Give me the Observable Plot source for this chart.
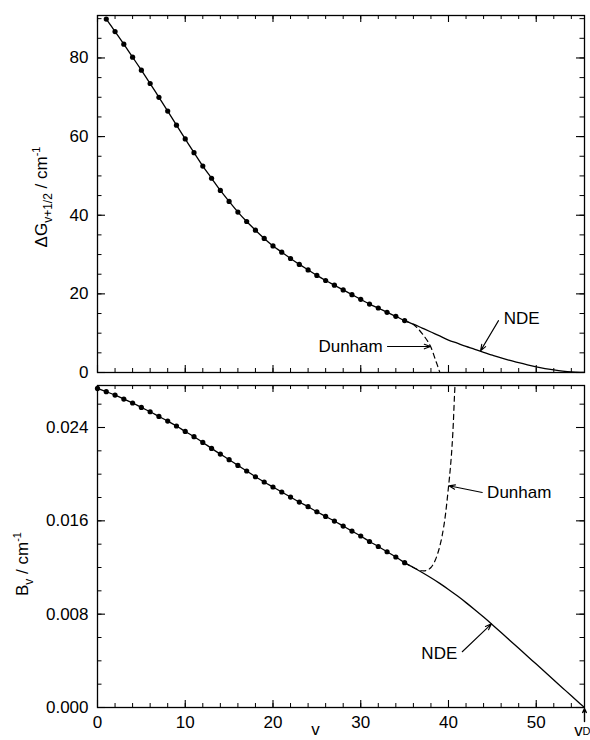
<!DOCTYPE html>
<html><head><meta charset="utf-8">
<script src="https://cdn.jsdelivr.net/npm/d3@7"></script>
<script src="https://cdn.jsdelivr.net/npm/@observablehq/plot@0.6"></script>
<style>
body{margin:0;background:#fff}
#chart svg{display:block;overflow:visible}
</style>
</head><body><div id="chart"></div>
<script>
// ---------- data ----------
const vTop = d3.range(1, 36);            // v = 1..35
const dG = [89.9, 86.7, 83.5, 80.2, 76.9, 73.5, 70.0, 66.5, 62.9, 59.4,
            55.9, 52.5, 49.4, 46.3, 43.5, 40.8, 38.4, 36.2, 34.1, 32.2,
            30.6, 29.0, 27.5, 26.1, 24.7, 23.4, 22.2, 21.0, 19.8, 18.6,
            17.4, 16.4, 15.3, 14.3, 13.2];
const vNdeTop = [35, 36, 37, 38, 39, 40, 41, 42, 43, 44, 45, 46, 47, 48, 49, 50, 51, 52, 53, 54, 55, 55.5];
const ndeTop  = [13.2, 12.3, 11.3, 10.3, 9.3, 8.25, 7.45, 6.65, 5.9, 5.1, 4.4, 3.7, 3.1, 2.5, 1.95, 1.45, 1.0, 0.65, 0.35, 0.13, 0.02, 0];
const vDunTop = [35, 36, 36.5, 37, 37.5, 38, 38.5, 39, 39.4];
const dunTop  = [13.2, 12.2, 11.2, 9.9, 8.4, 6.4, 3.3, 0.1, -3];

const vBot = d3.range(0, 36);            // v = 0..35
const Bv = [0.02735, 0.02707, 0.02678, 0.02644, 0.02610, 0.02572, 0.02535, 0.02495, 0.02455, 0.02413,
            0.02366, 0.02321, 0.02272, 0.02221, 0.02172, 0.02124, 0.02075, 0.02027, 0.01978, 0.01933,
            0.01890, 0.01847, 0.01804, 0.01761, 0.01721, 0.01678, 0.01638, 0.01598, 0.01555, 0.01512,
            0.01470, 0.01423, 0.01380, 0.01335, 0.01290, 0.01241];
const vNdeBot = [35, 36, 37, 38, 39, 40, 41, 42, 43, 44, 45, 46, 47, 48, 49, 50, 51, 52, 53, 54, 55, 55.5];
const ndeBot  = [0.01241, 0.01200, 0.01157, 0.01112, 0.01064, 0.01012, 0.00957, 0.00899, 0.00838, 0.00775,
                 0.00710, 0.00643, 0.00575, 0.00507, 0.00439, 0.00372, 0.00304, 0.00236, 0.00168, 0.00100, 0.00033, 0];
const vDunBot = [35, 36, 36.5, 37, 37.5, 38, 38.5, 39, 39.5, 40, 40.3, 40.5, 40.7, 40.9];
const dunBot  = [0.01241, 0.01200, 0.01182, 0.01172, 0.01175, 0.01200, 0.01265, 0.01380, 0.01570, 0.01890, 0.02130, 0.02360, 0.02700, 0.03000];

const xTicks = [0, 10, 20, 30, 40, 50];
const xMinorTicks = d3.range(0, 56, 2);
const gTicks = [0, 20, 40, 60, 80];
const gMinorTicks = d3.range(0, 91, 5);
const bTicks = [0, 0.008, 0.016, 0.024];
const bMinorTicks = d3.range(0, 0.0275, 0.002);
const vD = 55.5;

// annotations (data coordinates)
const topDunLabel = [{x: 32.5, y: 6.6, t: "Dunham"}];
const topNdeLabel = [{x: 46.3, y: 13.7, t: "NDE"}];
const topArrows = [{x1: 33.05, y1: 6.6, x2: 37.95, y2: 6.6}, {x1: 45.7, y1: 13.2, x2: 43.65, y2: 5.5}];
const botDunLabel = [{x: 44.4, y: 0.01843, t: "Dunham"}];
const botNdeLabel = [{x: 41.0, y: 0.0046, t: "NDE"}];
const botArrows = [{x1: 43.85, y1: 0.01843, x2: 40.05, y2: 0.0190}, {x1: 41.57, y1: 0.00478, x2: 44.9, y2: 0.00717}];

// ---------- helpers ----------
const font = "'Liberation Sans', Arial, Helvetica, sans-serif";
const W = 590, ML = 97, MR = 6;
const FW = W - ML - MR;
const zip = (xs, ys) => xs.map((x, i) => ({x, y: ys[i]}));

function frameTicks(yMaj, yMin, FH) {
  const mx = 7, nx = 4, my = 8, ny = 4.5;
  return [
    Plot.tickX(xTicks, {x: d => d, insetBottom: FH - mx, strokeWidth: 1.1}),
    Plot.tickX(xTicks, {x: d => d, insetTop: FH - mx, strokeWidth: 1.1}),
    Plot.tickX(xMinorTicks, {x: d => d, insetBottom: FH - nx, strokeWidth: 1}),
    Plot.tickX(xMinorTicks, {x: d => d, insetTop: FH - nx, strokeWidth: 1}),
    Plot.tickY(yMaj, {y: d => d, insetRight: FW - my, strokeWidth: 1.1}),
    Plot.tickY(yMaj, {y: d => d, insetLeft: FW - my, strokeWidth: 1.1}),
    Plot.tickY(yMin, {y: d => d, insetRight: FW - ny, strokeWidth: 1}),
    Plot.tickY(yMin, {y: d => d, insetLeft: FW - ny, strokeWidth: 1}),
    Plot.frame({stroke: "black", strokeWidth: 1.3})
  ];
}

// ---------- top panel ----------
const topH = 378, topMT = 15, topMB = 6;
const topPlot = Plot.plot({
  width: W, height: topH,
  marginLeft: ML, marginRight: MR, marginTop: topMT, marginBottom: topMB,
  style: {fontFamily: font, fontSize: "17px", color: "black", background: "white"},
  x: {domain: [0, vD], axis: null},
  y: {domain: [0, 90.8], axis: null},
  marks: [
    ...frameTicks(gTicks, gMinorTicks, topH - topMT - topMB),
    Plot.axisY(gTicks, {tickSize: 0, tickPadding: 9, label: null, fontSize: 17}),
    Plot.line(zip(vDunTop, dunTop), {x: "x", y: "y", curve: "catmull-rom", stroke: "black", strokeWidth: 1.2, strokeDasharray: "5,4", clip: true}),
    Plot.line([...zip(vTop, dG), ...zip(vNdeTop, ndeTop).slice(1)], {x: "x", y: "y", curve: "catmull-rom", stroke: "black", strokeWidth: 1.3, clip: true}),
    Plot.dot(zip(vTop, dG), {x: "x", y: "y", r: 2.6, fill: "black", stroke: "none"}),
    Plot.text(topDunLabel, {x: "x", y: "y", text: "t", textAnchor: "end", fontSize: 17}),
    Plot.text(topNdeLabel, {x: "x", y: "y", text: "t", textAnchor: "start", fontSize: 17}),
    Plot.arrow(topArrows, {x1: "x1", y1: "y1", x2: "x2", y2: "y2", headLength: 9, headAngle: 40, strokeWidth: 1.1, stroke: "black"})
  ]
});

// ---------- bottom panel ----------
const botH = 362, botMT = 7, botMB = 33;
const botPlot = Plot.plot({
  width: W, height: botH,
  marginLeft: ML, marginRight: MR, marginTop: botMT, marginBottom: botMB,
  style: {fontFamily: font, fontSize: "17px", color: "black", background: "white"},
  x: {domain: [0, vD], axis: null},
  y: {domain: [0, 0.0276], axis: null},
  marks: [
    ...frameTicks(bTicks, bMinorTicks, botH - botMT - botMB),
    Plot.axisY(bTicks, {tickSize: 0, tickPadding: 9, label: null, tickFormat: d3.format(".3f"), fontSize: 17}),
    Plot.axisX(xTicks, {tickSize: 0, tickPadding: 8, label: null, fontSize: 17}),
    Plot.line(zip(vDunBot, dunBot), {x: "x", y: "y", curve: "catmull-rom", stroke: "black", strokeWidth: 1.2, strokeDasharray: "5,4", clip: true}),
    Plot.line([...zip(vBot, Bv), ...zip(vNdeBot, ndeBot).slice(1)], {x: "x", y: "y", curve: "catmull-rom", stroke: "black", strokeWidth: 1.3, clip: true}),
    Plot.dot(zip(vBot, Bv), {x: "x", y: "y", r: 2.6, fill: "black", stroke: "none"}),
    Plot.text(botDunLabel, {x: "x", y: "y", text: "t", textAnchor: "start", fontSize: 17}),
    Plot.text(botNdeLabel, {x: "x", y: "y", text: "t", textAnchor: "end", fontSize: 17}),
    Plot.arrow(botArrows, {x1: "x1", y1: "y1", x2: "x2", y2: "y2", headLength: 9, headAngle: 40, strokeWidth: 1.1, stroke: "black"}),
    // v_D marker below the axis end
    Plot.arrow([vD], {x1: d => d, x2: d => d, y1: 0, y2: 0, headLength: 5, headAngle: 50, strokeWidth: 1.4, stroke: "black",
      render: (index, scales, values, dims, ctx, next) => next(index, scales, {...values, y1: values.y1.map(y => y + 14), y2: values.y2.map(y => y + 1)}, dims, ctx)}),
    Plot.text(["v"], {x: vD, y: 0, text: d => d, dy: 16, dx: -6, lineAnchor: "top", fontSize: 17}),
    Plot.text(["D"], {x: vD, y: 0, text: d => d, dy: 20, dx: 2, lineAnchor: "top", fontSize: 11}),
    Plot.text(["v"], {x: 24.85, y: 0, text: d => d, dy: 15, lineAnchor: "top", fontSize: 17})
  ]
});

const chart = document.getElementById("chart");
chart.appendChild(topPlot);
chart.appendChild(botPlot);

// rotated y-axis titles with sub/superscripts
function yTitle(svg, x, y, main, sub, mid) {
  const t = d3.select(svg).append("text")
    .attr("transform", `translate(${x},${y}) rotate(-90)`)
    .attr("text-anchor", "middle")
    .attr("fill", "black")
    .style("font-family", font).style("font-size", "17px");
  t.append("tspan").text(main);
  t.append("tspan").attr("font-size", 12).attr("dy", 5).text(sub);
  t.append("tspan").attr("dy", -5).text(mid);
  t.append("tspan").attr("font-size", 11).attr("dy", -7).text("-1");
}
yTitle(topPlot, 47, 197, "ΔG", "v+1/2", " / cm");
yTitle(botPlot, 28, 564 - 378, "B", "v", " / cm");
</script>
</body></html>
